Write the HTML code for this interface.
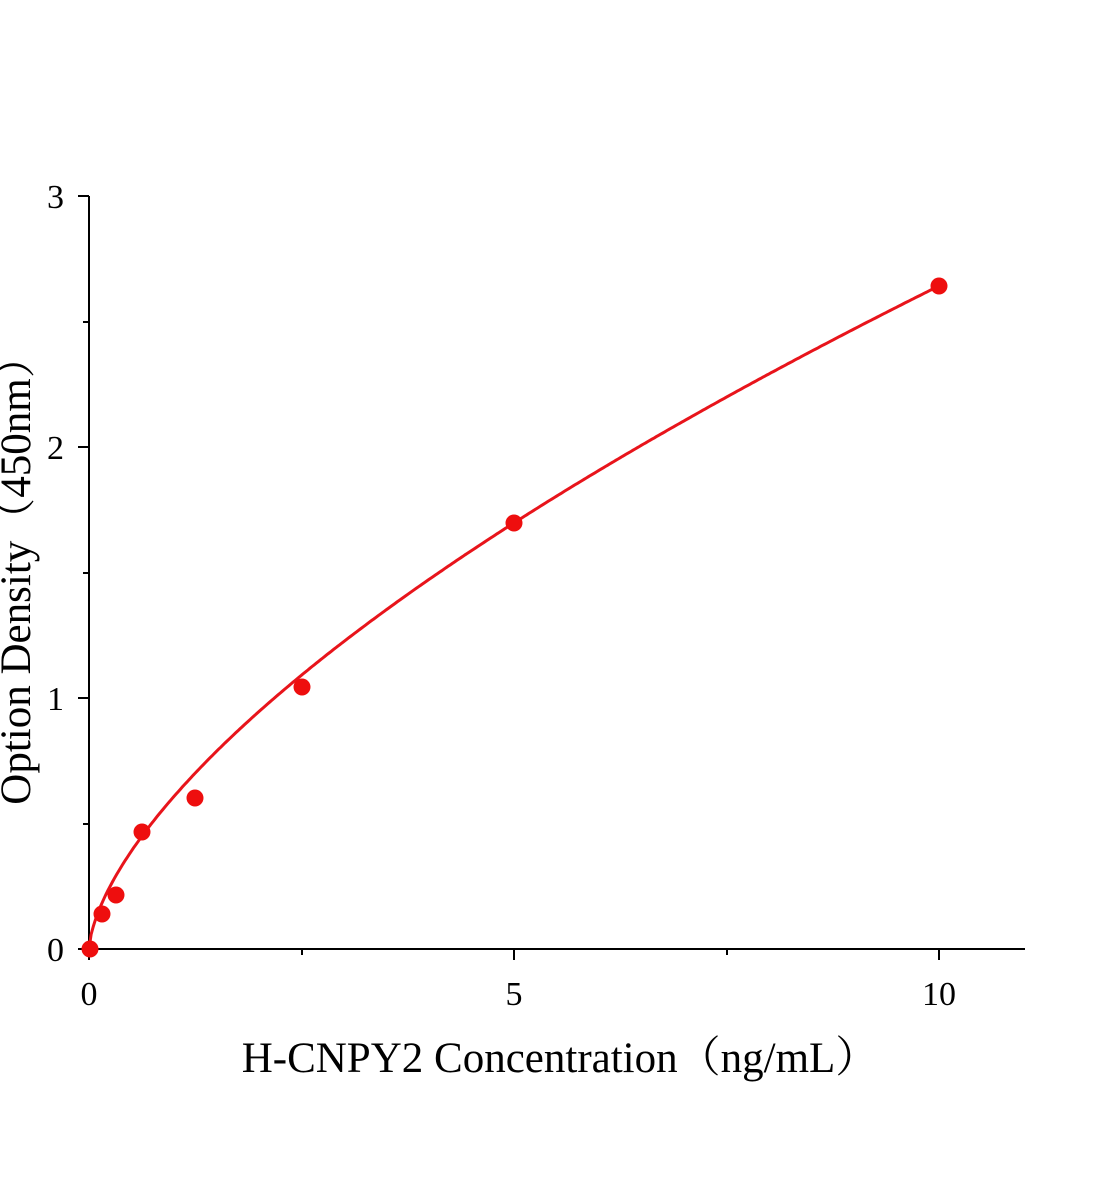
<!DOCTYPE html>
<html><head><meta charset="utf-8"><style>
html,body{margin:0;padding:0;background:#fff;}
svg{display:block;}
text{font-family:"Liberation Serif","Noto Serif CJK SC",serif;fill:#000;}
</style></head><body>
<svg id="s" width="1104" height="1200" xmlns="http://www.w3.org/2000/svg">
<g stroke="#000" stroke-width="2" fill="none">
<line x1="89" y1="196" x2="89" y2="950"/>
<line x1="88" y1="949" x2="1025" y2="949"/>
<line x1="78" y1="196" x2="89" y2="196"/>
<line x1="78" y1="447" x2="89" y2="447"/>
<line x1="78" y1="698" x2="89" y2="698"/>
<line x1="78" y1="949" x2="89" y2="949"/>
<line x1="83" y1="322" x2="89" y2="322"/>
<line x1="83" y1="573" x2="89" y2="573"/>
<line x1="83" y1="824" x2="89" y2="824"/>
<line x1="89" y1="949" x2="89" y2="960"/>
<line x1="514" y1="949" x2="514" y2="960"/>
<line x1="939" y1="949" x2="939" y2="960"/>
<line x1="302" y1="949" x2="302" y2="955"/>
<line x1="727" y1="949" x2="727" y2="955"/>
</g>
<g font-size="34" text-anchor="end">
<text x="64" y="208">3</text>
<text x="64" y="459">2</text>
<text x="64" y="710">1</text>
<text x="64" y="961">0</text>
</g>
<g font-size="34" text-anchor="middle">
<text x="89" y="1005">0</text>
<text x="514" y="1005">5</text>
<text x="939" y="1005">10</text>
</g>
<text x="560" y="1072" font-size="43" text-anchor="middle">H-CNPY2 Concentration（ng/mL）</text>
<text transform="translate(30,570) rotate(-90)" font-size="43" text-anchor="middle">Option Density（450nm）</text>
<path id="c" fill="none" stroke="#e8141b" stroke-width="3"/>
<g fill="#ee0e0e">
<circle cx="90" cy="949" r="8.5"/>
<circle cx="102" cy="914" r="8.5"/>
<circle cx="116" cy="895" r="8.5"/>
<circle cx="142" cy="832" r="8.5"/>
<circle cx="195" cy="798" r="8.5"/>
<circle cx="302" cy="687" r="8.5"/>
<circle cx="514" cy="523" r="8.5"/>
<circle cx="939" cy="286" r="8.5"/>
</g>
</svg>
<script>
var d="";for(var i=0;i<=400;i++){var x=10*i/400;var y=0.608*Math.pow(x,0.638);var px=89+85*x,py=949-251*y;d+=(i?"L":"M")+px.toFixed(1)+","+py.toFixed(1);}
document.getElementById("c").setAttribute("d",d);
</script>
</body></html>
